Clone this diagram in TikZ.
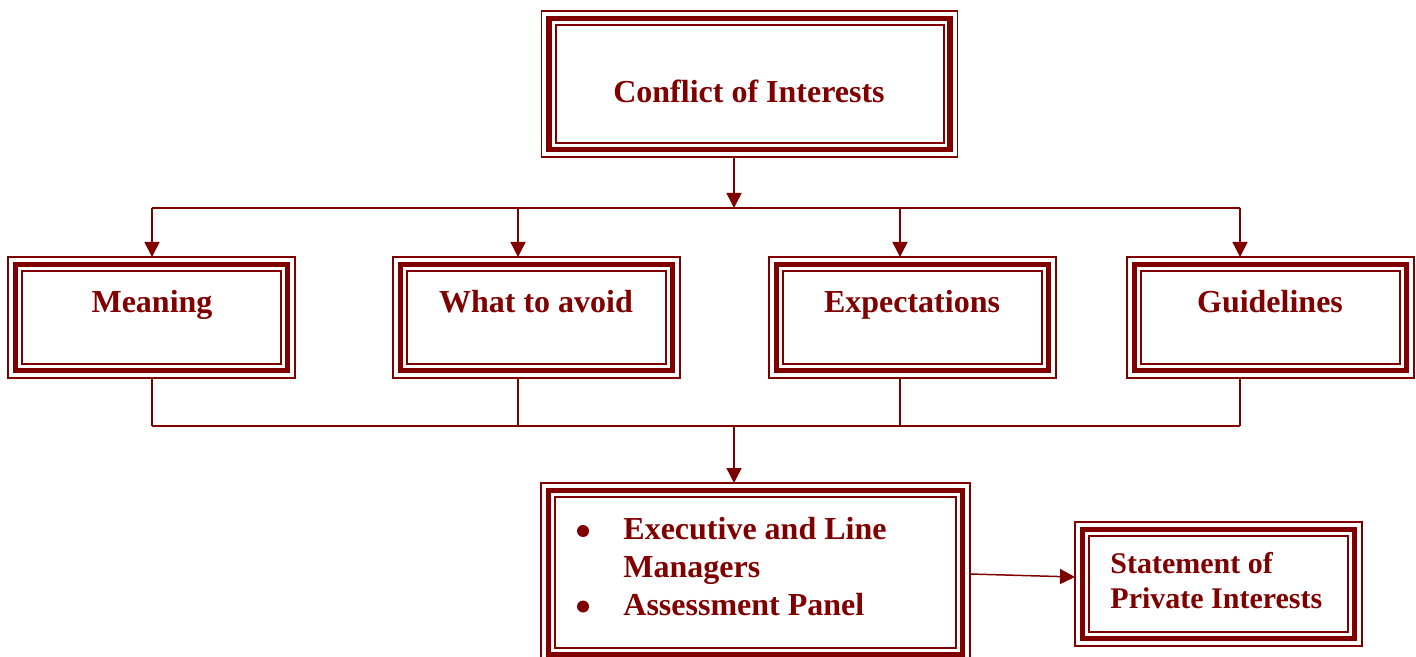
\documentclass[tikz,border=0pt]{standalone}
\usepackage{fontspec}
\setmainfont{Liberation Serif}
\usetikzlibrary{arrows.meta}
\definecolor{maroon}{RGB}{128,0,0}
\begin{document}
\begin{tikzpicture}[x=0.5pt,y=-0.5pt,
  box/.style={draw=maroon, line width=0.75pt, inner sep=0pt, outer sep=0pt},
  lbl/.style={text=maroon, inner sep=0pt, font=\bfseries\fontsize{16}{18.75}\selectfont},
  lblmulti/.style={text=maroon, inner sep=0pt, align=left, font=\bfseries\fontsize{16}{18.75}\selectfont},
  lblsmall/.style={text=maroon, inner sep=0pt, align=left, font=\bfseries\fontsize{15}{17.5}\selectfont},
  bullet/.style={circle, fill=maroon, inner sep=0pt, minimum size=6pt},
  conn/.style={draw=maroon, line width=0.75pt},
  arr/.style={conn, -{Triangle[length=7.5pt,width=7.5pt]}}]
\useasboundingbox (0,0) rectangle (1416,657);
\clip (0,0) rectangle (1416,657);
% boxes
\node[box, minimum width=208pt, minimum height=73pt] (top) at (749.5,84) {};
\node[box, minimum width=143.5pt, minimum height=60.5pt] (mean) at (151.5,317.5) {};
\node[box, minimum width=143.5pt, minimum height=60.5pt] (avoid) at (536.5,317.5) {};
\node[box, minimum width=143.5pt, minimum height=60.5pt] (expect) at (912.5,317.5) {};
\node[box, minimum width=143.5pt, minimum height=60.5pt] (guide) at (1270.5,317.5) {};
\node[box, minimum width=214.5pt, minimum height=89.5pt] (mgr) at (755.5,572.5) {};
\node[box, minimum width=143.5pt, minimum height=62pt] (stmt) at (1218.5,584) {};
\foreach \n in {top,mean,avoid,expect,guide,mgr,stmt} {
  \draw[maroon, line width=2.75pt] ([shift={(7.5,7.5)}]\n.north west) rectangle ([shift={(-7.5,-7.5)}]\n.south east);
  \draw[maroon, line width=1pt] ([shift={(14,14)}]\n.north west) rectangle ([shift={(-14,-14)}]\n.south east);
}
% labels
\node[lbl, anchor=base] (ttop) at (749,103) {Conflict of Interests};
\node[lbl, anchor=base] (tmean) at (152,313) {Meaning};
\node[lbl, anchor=base] (tavoid) at (536,313) {What to avoid};
\node[lbl, anchor=base] (texpect) at (912,313) {Expectations};
\node[lbl, anchor=base] (tguide) at (1270,313) {Guidelines};
\node[bullet] (bul1) at (583,531) {};
\node[bullet] (bul2) at (583,606.5) {};
\node[lblmulti, anchor=base west] (tmgr1) at (623,577) {Executive and Line\\Managers};
\node[lbl, anchor=base west] (tmgr2) at (623,615) {Assessment Panel};
\node[lblsmall, anchor=base west] (tstmt) at (1110,608) {Statement of\\Private Interests};
% connectors
\coordinate (j1) at (734,208);
\coordinate (a1) at (152,208);
\coordinate (a2) at (518,208);
\coordinate (a3) at (900,208);
\coordinate (a4) at (1240,208);
\coordinate (c1) at (152,426);
\coordinate (c2) at (518,426);
\coordinate (c3) at (900,426);
\coordinate (c4) at (1240,426);
\coordinate (j2) at (734,426);
\draw[arr] (top.south -| j1) -- (j1);
\draw[conn] (a1) -- (a4);
\draw[arr] (a1) -- (a1 |- mean.north);
\draw[arr] (a2) -- (a2 |- avoid.north);
\draw[arr] (a3) -- (a3 |- expect.north);
\draw[arr] (a4) -- (a4 |- guide.north);
\draw[conn] (c1 |- mean.south) -- (c1);
\draw[conn] (c2 |- avoid.south) -- (c2);
\draw[conn] (c3 |- expect.south) -- (c3);
\draw[conn] (c4 |- guide.south) -- (c4);
\draw[conn] (c1) -- (c4);
\draw[arr] (j2) -- (j2 |- mgr.north);
\draw[arr] ([yshift=-0.75pt]mgr.east) -- ([yshift=3.5pt]stmt.west);
\end{tikzpicture}
\end{document}
